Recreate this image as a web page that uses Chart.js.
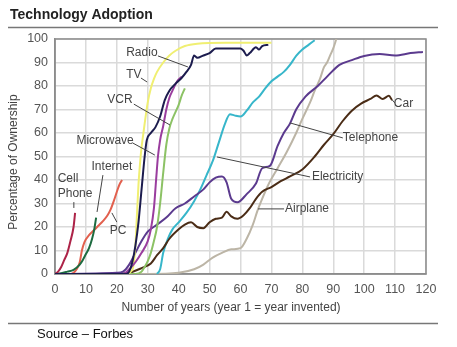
<!DOCTYPE html>
<html>
<head>
<meta charset="utf-8">
<script src="https://cdn.jsdelivr.net/npm/chart.js@4"></script>
<style>
  body { margin: 0; background: #fff; }
  #wrap { width: 457px; height: 347px; position: relative; }
</style>
</head>
<body>
<div id="wrap"><canvas id="adoption"></canvas></div>
<script>
// [year, % of households]
const cellPhone = [[0,0],[1,1],[2,3],[3,6],[4,9],[5,14],[6,20],[6.5,26]];
const internet = [[0,0],[2,0.3],[4,1],[6,1.8],[8,4],[9,6],[10,8.5],[11,11],[12,15],[12.7,19],[13.3,24]];
const pc = [[0,0],[5,0],[6,0.5],[7,2],[8,5],[8.7,10],[9.5,13.5],[11,16.5],[12.5,18.5],[14,20.5],[15.5,22.5],[17,25],[18,27.5],[19,31],[20,35],[21,38.5],[21.7,40]];
const tv = [[0,0],[23,0],[24.5,1],[25.3,3],[26,12],[26.5,25],[27,38],[27.5,47],[28,54],[28.5,59],[29,64],[30,73],[31,79],[32,83],[33,86],[35,90],[37,93],[39,95],[42,97],[46,98],[55,98.4],[70,98.4]];
const radio = [[0,0],[23,0],[24,1],[25,5],[26,12],[27,22],[28,36],[29,50],[29.7,57],[31,60],[32.5,62.5],[34,67],[35.5,74],[37,78],[39,81],[41,83.5],[42.5,86],[44,89],[45,93],[46,92],[48,93],[50,94],[52,96],[56,96],[60,96],[61,95],[62,93],[63,94],[65,96.5],[66,95.5],[67,97],[69,97.5]];
const microwave = [[0,0],[22,0],[24,2],[26,5],[28,9],[30,14],[31,19],[32,28],[32.7,40],[33.3,50],[34,57],[35,63],[36,70],[37,75],[38,78],[39.5,82],[41,84]];
const vcr = [[0,0],[26,0],[28,1],[29,3],[30,5.5],[31,9],[32,14],[33,20],[34,30],[35,43],[36,55],[37,62],[38,66],[39,69],[40,72],[41,76],[42,79]];
const electricity = [[33,0],[34,2],[35,9],[36.5,15],[38,19],[40,22],[42.5,26],[45,31],[47,36],[49,42],[51,48],[53,56],[55,64],[56.6,68],[58,67.5],[60,67],[62,69.5],[64,73],[66,75.5],[68,79],[70,82],[72,84],[74,86],[76,89],[78,92.8],[80,95.5],[82,97.5],[84,99.5]];
const telephone = [[0,0],[20,0.5],[22,1],[24,4],[26,9],[28,14],[30,18],[33,21],[36,24],[39,28],[42,30],[45,33],[48,36],[50,39],[52,41],[54,41.5],[55.5,39],[57,32],[59,30.5],[62,34],[65,38.5],[67,45],[69.5,46],[72,54.5],[74,60],[76,64],[78,70],[81,75.5],[85,80],[88,84],[92,89],[96,91],[100,92.8],[105,93.6],[110,93],[115,94],[119,94.5]];
const car = [[0,0],[20,0],[24,0.5],[28,2.5],[31,4.5],[33,8],[35,11],[37,15],[40,19],[42,21],[44,22],[46,20],[48,19.5],[50,22],[52,23.5],[54,24],[55.5,26.5],[57,24.5],[59,23.5],[61,25],[63,28],[65,32],[67,35],[70,37],[73,39.5],[76,41.5],[80,44.5],[84,50],[87,55],[90,59.5],[93,65],[96,69.5],[99,72.5],[102,74.5],[104,76],[106,74.5],[108,75.8],[109,74]];
const airplane = [[0,0],[30,0],[40,0.5],[45,2],[48,4],[51,7],[54,9],[57,10.5],[60,11],[62,15],[64,21],[65.5,27],[67,32],[69,38],[72,45],[75,52],[78,60],[80,66],[82.5,73],[84,78],[85.7,83],[87,88],[88,90],[89,93],[90,96],[91,100]];

const xTicks = [0, 120, 10];
const yTicks = [0, 100, 10];

const FONT = '"Liberation Sans", Arial, sans-serif';

function line(label, pts, color) {
  return {
    label: label,
    data: pts.map(p => ({ x: p[0], y: p[1] })),
    borderColor: color,
    backgroundColor: color,
    borderWidth: 2,
    pointRadius: 0,
    cubicInterpolationMode: 'monotone',
    fill: false,
  };
}

// callouts, placed in data units
const callouts = [
  { text: 'Radio', at: [28.1, 94], align: 'center', from: [33.3, 92.8], to: [43, 88.1] },
  { text: 'TV', at: [25.5, 84.7], align: 'center', from: [27.8, 83.4], to: [29.8, 81.7] },
  { text: 'VCR', at: [21, 74], align: 'center', from: [25.5, 72.3], to: [37.2, 63.4] },
  { text: 'Microwave', at: [16.2, 56.6], align: 'center', from: [25.2, 55.7], to: [32.3, 50.6] },
  { text: 'Internet', at: [18.4, 45.5], align: 'center', from: [15.5, 42.1], to: [13.6, 26.4] },
  { text: 'Cell', at: [4.2, 40.4], align: 'center' },
  { text: 'Phone', at: [6.5, 34], align: 'center', from: [6.1, 30.6], to: [6.1, 28.1] },
  { text: 'PC', at: [20.4, 18.3], align: 'center', from: [18.4, 26], to: [20, 22.1] },
  { text: 'Telephone', at: [93.1, 57.9], align: 'left', from: [93.1, 57.9], to: [76, 64.3] },
  { text: 'Electricity', at: [83.1, 41.3], align: 'left', from: [82.5, 41.3], to: [52.4, 49.8] },
  { text: 'Airplane', at: [74.4, 27.7], align: 'left', from: [74.1, 27.7], to: [65.7, 27.7] },
  { text: 'Car', at: [109.6, 72.5], align: 'left', from: [109, 74.2], to: [109.9, 72.8] },
];

const frame = {
  id: 'frame',
  beforeDatasetsDraw(chart) {
    const { ctx, chartArea: a } = chart;
    ctx.save();
    ctx.strokeStyle = '#8c8c8c';
    ctx.lineWidth = 1.5;
    ctx.strokeRect(a.left, a.top, a.right - a.left, a.bottom - a.top);
    ctx.restore();
  },
  afterDraw(chart) {
    const { ctx, scales } = chart;
    const X = v => scales.x.getPixelForValue(v);
    const Y = v => scales.y.getPixelForValue(v);
    ctx.save();

    // heading and rules
    ctx.fillStyle = '#222';
    ctx.font = 'bold 14px ' + FONT;
    ctx.textBaseline = 'middle';
    ctx.textAlign = 'left';
    ctx.fillText('Technology Adoption', 10, 15);
    ctx.strokeStyle = '#777';
    ctx.lineWidth = 1.5;
    ctx.beginPath();
    ctx.moveTo(8, 27.5); ctx.lineTo(438, 27.5);
    ctx.moveTo(8, 323.5); ctx.lineTo(438, 323.5);
    ctx.stroke();

    ctx.fillStyle = '#111';
    ctx.font = '13px ' + FONT;
    ctx.fillText('Source \u2013 Forbes', 37, 334);

    // axis titles
    ctx.fillStyle = '#444';
    ctx.font = '12px ' + FONT;
    ctx.textAlign = 'center';
    ctx.fillText('Number of years (year 1 = year invented)', 231, 308);
    ctx.translate(14, 162);
    ctx.rotate(-Math.PI / 2);
    ctx.fillText('Percentage of Ownership', 0, 0);
    ctx.setTransform(1, 0, 0, 1, 0, 0);

    // callouts
    ctx.strokeStyle = '#444';
    ctx.lineWidth = 1;
    ctx.font = '12px ' + FONT;
    ctx.fillStyle = '#444';
    callouts.forEach(c => {
      if (c.from) {
        ctx.beginPath();
        ctx.moveTo(X(c.from[0]), Y(c.from[1]));
        ctx.lineTo(X(c.to[0]), Y(c.to[1]));
        ctx.stroke();
      }
      ctx.textAlign = c.align;
      ctx.fillText(c.text, X(c.at[0]), Y(c.at[1]));
    });
    ctx.restore();
  }
};

new Chart(document.getElementById('adoption'), {
  type: 'line',
  data: {
    datasets: [
      line('Radio', radio, '#1c1c4e'),
      line('Microwave', microwave, '#9a3d9e'),
      line('TV', tv, '#f0ef72'),
      line('VCR', vcr, '#8cc265'),
      line('Cell Phone', cellPhone, '#ad2348'),
      line('Internet', internet, '#1d6b40'),
      line('PC', pc, '#e2604e'),
      line('Telephone', telephone, '#5b3a8e'),
      line('Car', car, '#4a2c16'),
      line('Electricity', electricity, '#37b6ca'),
      line('Airplane', airplane, '#bcb5a6'),
    ]
  },
  options: {
    responsive: true,
    maintainAspectRatio: false,
    animation: false,
    layout: { padding: { top: 39, left: 8, right: 31, bottom: 0 } },
    plugins: {
      legend: { display: false },
      tooltip: { enabled: false },
    },
    scales: {
      x: {
        type: 'linear',
        min: xTicks[0], max: xTicks[1],
        afterFit: s => { s.height = 73; },
        grid: { color: '#dadada', lineWidth: 1.5, drawTicks: false },
        border: { color: '#8c8c8c', width: 1.5 },
        ticks: { stepSize: xTicks[2], padding: 8, color: '#555', font: { family: FONT, size: 12.5 } },
      },
      y: {
        min: yTicks[0], max: yTicks[1],
        afterFit: s => { s.width = 47; },
        grid: { color: '#dadada', lineWidth: 1.5, drawTicks: false },
        border: { color: '#8c8c8c', width: 1.5 },
        ticks: { stepSize: yTicks[2], padding: 7, color: '#555', font: { family: FONT, size: 12.5 } },
      }
    }
  },
  plugins: [frame]
});
</script>
</body>
</html>
